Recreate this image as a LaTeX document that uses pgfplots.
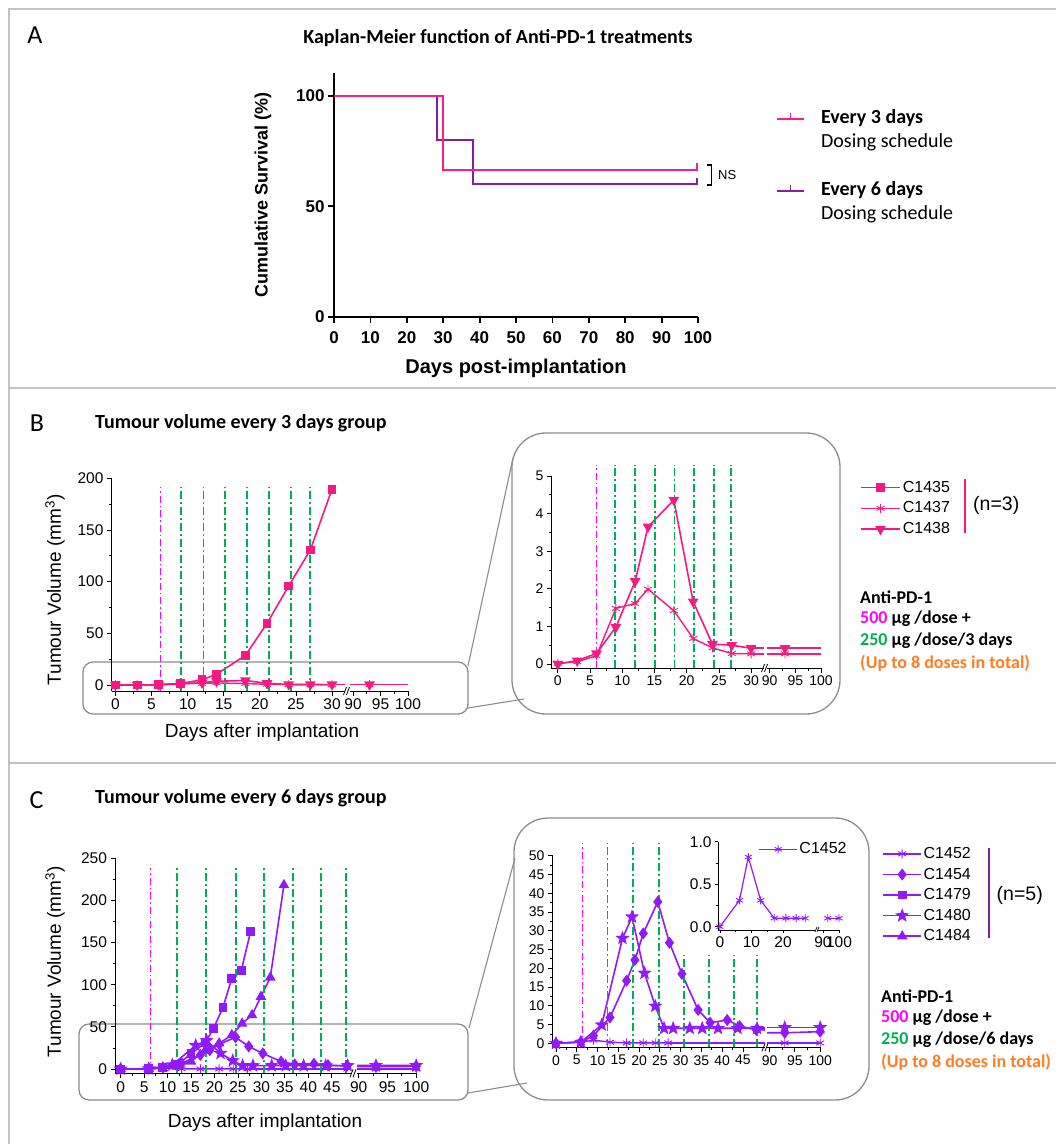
\documentclass[border=0pt]{standalone}
\usepackage{fontspec}
\setmainfont{Carlito}
\newfontfamily\arial{Liberation Sans}
\usepackage{pgfplots}
\pgfplotsset{compat=1.18}
\newcommand\fs[1]{\fontsize{#1}{#1}\selectfont}

\definecolor{kmpink}{RGB}{255,25,140}
\definecolor{kmpurple}{RGB}{135,30,160}
\definecolor{bpink}{RGB}{245,25,130}
\definecolor{cviolet}{RGB}{145,25,250}
\definecolor{dosemag}{RGB}{255,0,255}
\definecolor{dosegreen}{RGB}{0,176,80}
\definecolor{uporange}{RGB}{255,125,35}
\definecolor{framegray}{RGB}{195,195,195}
\definecolor{boxgray}{RGB}{140,140,140}

% filled five-point star
\pgfdeclareplotmark{fstar}{%
  \pgfpathmoveto{\pgfpointpolar{90}{\pgfplotmarksize}}%
  \pgfpathlineto{\pgfpointpolar{126}{0.42\pgfplotmarksize}}%
  \pgfpathlineto{\pgfpointpolar{162}{\pgfplotmarksize}}%
  \pgfpathlineto{\pgfpointpolar{198}{0.42\pgfplotmarksize}}%
  \pgfpathlineto{\pgfpointpolar{234}{\pgfplotmarksize}}%
  \pgfpathlineto{\pgfpointpolar{270}{0.42\pgfplotmarksize}}%
  \pgfpathlineto{\pgfpointpolar{306}{\pgfplotmarksize}}%
  \pgfpathlineto{\pgfpointpolar{342}{0.42\pgfplotmarksize}}%
  \pgfpathlineto{\pgfpointpolar{18}{\pgfplotmarksize}}%
  \pgfpathlineto{\pgfpointpolar{54}{0.42\pgfplotmarksize}}%
  \pgfpathclose\pgfusepathqfillstroke}

\tikzset{
  magdose/.style={draw=dosemag, line width=1.3pt, dash pattern=on 7pt off 3pt on 1.5pt off 3pt},
  grdose/.style={draw=dosegreen, line width=1.9pt, dash pattern=on 8pt off 3pt on 2pt off 3pt},
}
% dose schedule markers: #2 = day, #3 = bottom, #4 = top (axis units)
\newcommand\dose[4][grdose]{\draw[#1] (axis cs:#2,#3) -- (axis cs:#2,#4);}

\pgfplotsset{
  tumax/.style={scale only axis, anchor=south west,
    axis x line*=bottom, axis y line*=left, axis line style={-, black, line width=0.9pt},
    tick align=outside, major tick length=4.5pt, minor tick length=2.5pt,
    tick style={black, line width=0.8pt},
    /pgf/number format/assume math mode=true,
    tick label style={font=\arial\fs{15.5}}},
  s1435/.style={bpink, line width=1.6pt, mark=square*, mark size=3.6pt, mark options={solid}},
  s1437/.style={bpink, line width=1.4pt, mark=asterisk, mark size=4.5pt, mark options={solid, line width=0.9pt}},
  s1438/.style={bpink, line width=1.6pt, mark=triangle*, mark size=4.6pt, mark options={solid, rotate=180}},
  s1452/.style={cviolet, line width=1.4pt, mark=asterisk, mark size=4.5pt, mark options={solid, line width=0.9pt}},
  s1454/.style={cviolet, line width=1.6pt, mark=diamond*, mark size=4.8pt, mark options={solid}},
  s1479/.style={cviolet, line width=1.6pt, mark=square*, mark size=3.6pt, mark options={solid}},
  s1480/.style={cviolet, line width=1.6pt, mark=fstar, mark size=5.2pt, mark options={solid}},
  s1484/.style={cviolet, line width=1.6pt, mark=triangle*, mark size=4.6pt, mark options={solid}},
  ext/.style={no marks, forget plot},
  dots/.style={only marks, forget plot},
}

\begin{document}
\begin{tikzpicture}
\useasboundingbox (0,0) rectangle (1056pt,-1144pt);

% ---------- frames, boxes, labels ----------
\begin{scope}[x=1pt,y=-1pt]
  \draw[framegray, line width=1.6pt] (9,1144) -- (9,9) -- (1056,9);
  \draw[framegray, line width=1.6pt] (9,388) -- (1056,388);
  \draw[framegray, line width=1.6pt] (9,763) -- (1056,763);

  \draw[boxgray, line width=1.3pt, rounded corners=34pt] (512,433) rectangle (840,714);
  \draw[boxgray, line width=1.3pt, rounded corners=10pt] (83,662) rectangle (468,714);
  \draw[boxgray, line width=1.1pt] (468,666) -- (513,458);
  \draw[boxgray, line width=1.1pt] (468,708) -- (524,699);

  \draw[boxgray, line width=1.3pt, rounded corners=34pt] (514,818) rectangle (869,1100);
  \draw[boxgray, line width=1.3pt, rounded corners=10pt] (79,1024) rectangle (468,1100);
  \draw[boxgray, line width=1.1pt] (469,1028) -- (515,858);
  \draw[boxgray, line width=1.1pt] (468,1093) -- (527,1083);

  % axis breaks
  \foreach \bx/\by in {347.5/691, 765.5/668, 354/1073.3, 766/1047.3}{
    \draw[black, line width=0.8pt] (\bx-4,\by+4) -- (\bx-1,\by-4);
    \draw[black, line width=0.8pt] (\bx-1,\by+4) -- (\bx+2,\by-4);}
  \draw[black, line width=0.7pt] (815,932) -- (817,927);
  \draw[black, line width=0.7pt] (817,932) -- (819,927);

  % panel A texts
  \node[font=\fs{26}] at (35,35) {A};
  \node[font=\bfseries\fs{20}] at (498,38) {Kaplan-Meier function of Anti-PD-1 treatments};
  \node[font=\arial\bfseries\fs{18}, rotate=90] at (263,195) {Cumulative Survival (\%)};
  \node[font=\arial\bfseries\fs{20}] at (516,368) {Days post-implantation};
  \draw[black, line width=1.3pt] (706.7,165) -- (711.7,165) -- (711.7,185) -- (706.7,185);
  \node[font=\arial\fs{13}, anchor=west, inner sep=0pt] at (718,175) {NS};

  % panel B texts
  \node[font=\fs{26}] at (37,423) {B};
  \node[font=\bfseries\fs{20}, anchor=west, inner sep=0pt] at (95,423) {Tumour volume every 3 days group};
  \node[font=\arial\fs{19}, rotate=90] at (55,590) {Tumour Volume (mm\textsuperscript{3})};
  \node[font=\arial\fs{19}] at (262,733) {Days after implantation};
  \draw[bpink, line width=2pt] (964.5,479) -- (964.5,533);
  \node[font=\arial\fs{19.5}, anchor=west, inner sep=0pt] at (973,505) {(n=3)};
  \begin{scope}[every node/.style={font=\bfseries\fs{18}, anchor=west, inner sep=0pt}]
    \node at (860,597) {Anti-PD-1};
    \node at (860,619) {{\color{dosemag}500} µg /dose +};
    \node at (860,641) {{\color{dosegreen}250} µg /dose/3 days};
    \node at (860,663) {\color{uporange}(Up to 8 doses in total)};
  \end{scope}

  % panel C texts
  \node[font=\fs{26}] at (36.5,800) {C};
  \node[font=\bfseries\fs{20}, anchor=west, inner sep=0pt] at (95,798) {Tumour volume every 6 days group};
  \node[font=\arial\fs{19}, rotate=90] at (55,962) {Tumour Volume (mm\textsuperscript{3})};
  \node[font=\arial\fs{19}] at (265,1123) {Days after implantation};
  \draw[kmpurple, line width=2pt] (988.7,848) -- (988.7,938);
  \node[font=\arial\fs{19.5}, anchor=west, inner sep=0pt] at (996.5,895) {(n=5)};
  \begin{scope}[every node/.style={font=\bfseries\fs{18}, anchor=west, inner sep=0pt}]
    \node at (881,996) {Anti-PD-1};
    \node at (881,1017.5) {{\color{dosemag}500} µg /dose +};
    \node at (881,1040) {{\color{dosegreen}250} µg /dose/6 days};
    \node at (881,1062) {\color{uporange}(Up to 8 doses in total)};
  \end{scope}
\end{scope}

% ---------- A: Kaplan-Meier ----------
\begin{axis}[scale only axis, anchor=south west, at={(334pt,-316.7pt)},
  width=364pt, height=244pt, xmin=0, xmax=100, ymin=0, ymax=110.6, clip=false,
  axis x line*=bottom, axis y line*=left, axis line style={-, black, line width=2.2pt},
  tick align=outside, major tick length=6pt, tick style={black, line width=1.8pt},
  xtick={0,10,...,100}, ytick={0,50,100},
  /pgf/number format/assume math mode=true,
  tick label style={font=\arial\bfseries\fs{17}},
  xticklabel style={yshift=-5pt},
  legend cell align=left,
  legend style={draw=none, fill=none, at={(1.214,0.861)}, anchor=north west,
    font=\fs{20}, inner sep=0pt, row sep=0pt,
    nodes={inner sep=2pt, text height=15pt, text depth=5pt},
    /tikz/every odd column/.append style={column sep=14pt}},
  legend image code/.code={\draw[#1] (0pt,0pt) -- (27pt,0pt);
    \draw[#1, line width=1.5pt] (13.5pt,0pt) -- (13.5pt,6pt);},
]
\addplot[kmpurple, line width=2pt, const plot, forget plot] coordinates {(0,100)(28.2,80)(38.3,60)(100,60)};
\addplot[kmpink, line width=2pt, const plot, forget plot] coordinates {(0,100)(30,66.7)(100,66.7)};
\addplot[kmpink, line width=1.5pt, forget plot] coordinates {(99.7,66.7)(99.7,69.6)};
\addplot[kmpurple, line width=1.5pt, forget plot] coordinates {(99.7,60)(99.7,62.9)};
\addlegendimage{kmpink, line width=2pt}
\addlegendentry{\textbf{Every 3 days}}
\addlegendimage{empty legend}
\addlegendentry{Dosing schedule}
\addlegendimage{empty legend}
\addlegendentry{\phantom{D}}
\addlegendimage{kmpurple, line width=2pt}
\addlegendentry{\textbf{Every 6 days}}
\addlegendimage{empty legend}
\addlegendentry{Dosing schedule}
\end{axis}

% ---------- B: main, left segment ----------
\begin{axis}[tumax, at={(111.5pt,-691pt)}, width=233.5pt, height=212.7pt,
  xmin=-0.55, xmax=31.8, ymin=-5.8, ymax=200,
  xtick={0,5,...,30}, ytick={0,50,...,200}, minor x tick num=1, minor y tick num=1,
  legend cell align=left,
  legend style={draw=none, fill=none, at={(3.2056,0.859)}, anchor=west,
    font=\arial\fs{16}, inner sep=0pt, row sep=0pt,
    nodes={inner sep=2pt, text height=13pt, text depth=3.8pt}},
  legend image code/.code={\draw[mark repeat=2, mark phase=2, #1]
    plot coordinates {(0pt,0pt) (19.5pt,0pt) (39pt,0pt)};},
]
\addplot[s1435] coordinates {(0,0)(3,0)(6,0.3)(9,1.5)(12,5)(14,10.5)(18,28.6)(21,59.7)(24,95.8)(27,130.7)(30,189.4)};
\addlegendentry{C1435}
\addplot[s1437] coordinates {(0,0.02)(3,0.06)(6,0.22)(9,1.48)(12,1.61)(14,1.99)(18,1.42)(21,0.68)(24,0.43)(27,0.28)(30,0.27)};
\addlegendentry{C1437}
\addplot[s1438] coordinates {(0,0)(3,0.09)(6,0.28)(9,0.98)(12,2.2)(14,3.65)(18,4.36)(21,1.66)(24,0.53)(27,0.5)(30,0.42)};
\addlegendentry{C1438}
\addplot[s1437, ext] coordinates {(30,0.27)(93,0.27)};
\addplot[s1438, ext] coordinates {(30,0.42)(93,0.42)};
\dose[magdose]{6.2}{-5.8}{192}
\dose{9.1}{-5.8}{192}
\dose{12.2}{-5.8}{192}
\dose{15.2}{-5.8}{192}
\dose{18.2}{-5.8}{192}
\dose{21.3}{-5.8}{192}
\dose{24.3}{-5.8}{192}
\dose{27}{-5.8}{192}
\end{axis}

% ---------- B: main, right segment ----------
\begin{axis}[tumax, axis y line=none, at={(350pt,-691pt)}, width=58pt, height=212.7pt,
  xmin=89.45, xmax=100, ymin=-5.8, ymax=200, xtick={90,95,100}, minor x tick num=1]
\addplot[s1437, ext] coordinates {(30,0.27)(93,0.27)(100,0.27)};
\addplot[s1438, ext] coordinates {(30,0.42)(93,0.42)(100,0.42)};
\addplot[s1437, dots] coordinates {(93,0.27)};
\addplot[s1438, dots] coordinates {(93,0.42)};
\end{axis}

% ---------- B: inset, left segment ----------
\begin{axis}[tumax, clip=false, at={(551.4pt,-668pt)}, width=212.6pt, height=192pt,
  xmin=-1, xmax=32, ymin=-0.106, ymax=5,
  xtick={0,5,...,30}, ytick={0,...,5}, minor x tick num=1, minor y tick num=1,
  tick label style={font=\arial\fs{14}}]
\addplot[s1437, forget plot] coordinates {(0,0.02)(3,0.06)(6,0.22)(9,1.48)(12,1.61)(14,1.99)(18,1.42)(21,0.68)(24,0.43)(27,0.28)(30,0.27)};
\addplot[s1438, forget plot] coordinates {(0,0)(3,0.09)(6,0.28)(9,0.98)(12,2.2)(14,3.65)(18,4.36)(21,1.66)(24,0.53)(27,0.5)(30,0.42)};
\addplot[s1437, ext] coordinates {(30,0.27)(32,0.27)};
\addplot[s1438, ext] coordinates {(30,0.42)(32,0.42)};
\dose[magdose]{6}{-0.106}{5.3}
\dose{8.9}{-0.106}{5.3}
\dose{12}{-0.106}{5.3}
\dose{15.1}{-0.106}{5.3}
\dose{18.1}{-0.106}{5.3}
\dose{21.2}{-0.106}{5.3}
\dose{24.2}{-0.106}{5.3}
\dose{26.9}{-0.106}{5.3}
\end{axis}

% ---------- B: inset, right segment ----------
\begin{axis}[tumax, axis y line=none, clip=false, at={(767pt,-668pt)}, width=54pt, height=192pt,
  xmin=89.5, xmax=100, ymin=-0.106, ymax=5, xtick={90,95,100}, minor x tick num=1,
  tick label style={font=\arial\fs{14}}]
\addplot[s1437, ext] coordinates {(89.5,0.27)(100,0.27)};
\addplot[s1438, ext] coordinates {(89.5,0.42)(100,0.42)};
\addplot[s1437, dots] coordinates {(93,0.27)};
\addplot[s1438, dots] coordinates {(93,0.42)};
\end{axis}

% ---------- C: main, left segment ----------
\begin{axis}[tumax, at={(115pt,-1073.3pt)}, width=236pt, height=215pt,
  xmin=-1.2, xmax=49.1, ymin=-5.1, ymax=250,
  xtick={0,5,...,45}, ytick={0,50,...,250}, minor x tick num=1, minor y tick num=1,
  legend cell align=left,
  legend style={draw=none, fill=none, at={(3.252,0.829)}, anchor=west,
    font=\arial\fs{16}, inner sep=0pt, row sep=0pt,
    nodes={inner sep=2pt, text height=13pt, text depth=3.6pt}},
  legend image code/.code={\draw[mark repeat=2, mark phase=2, #1]
    plot coordinates {(0pt,0pt) (18.7pt,0pt) (37.4pt,0pt)};},
]
\addplot[s1452] coordinates {(0,0)(6,0.3)(9,0.83)(13,0.3)(17,0.1)(21,0.1)(24,0.1)(27,0.1)};
\addlegendentry{C1452}
\addplot[s1454] coordinates {(0,0)(6,0.4)(9,2.0)(13,6.9)(17,16.7)(19,22.2)(21,29.3)(24.5,37.7)(27.3,26.8)(30.3,18.5)(34.2,8.9)(37.1,5.5)(41.2,6.2)(44.2,4.6)(48.2,3.6)};
\addlegendentry{C1454}
\addplot[s1479] coordinates {(0,0)(6,0.3)(9,1.5)(12,5)(15,18)(18,31)(19.8,48.3)(21.8,72.8)(23.7,107.6)(25.7,116.7)(27.7,163)};
\addlegendentry{C1479}
\addplot[s1480] coordinates {(0,0)(6,0.3)(11,4.9)(16,28)(18.3,33.7)(21.3,18.7)(23.9,9.9)(26,4.0)(28.2,4.0)(32.2,4.0)(35.2,4.0)(39,4.0)(43.7,4.0)(48.4,4.0)};
\addlegendentry{C1480}
\addplot[s1484] coordinates {(0,0)(6,0.3)(9,1)(12,3)(15,9)(18,22)(21,30.4)(23.7,40.3)(25.9,54)(28,64)(29.9,85.8)(31.9,108.7)(34.8,218.3)};
\addlegendentry{C1484}
\addplot[s1452, ext] coordinates {(27,0.1)(93,0.1)};
\addplot[s1454, ext] coordinates {(48.2,3.6)(93,2.8)};
\addplot[s1480, ext] coordinates {(48.4,4.0)(93,4.2)};
\dose[magdose]{6.3}{-5.1}{238}
\dose{12.1}{-5.1}{238}
\dose{18.2}{-5.1}{238}
\dose{24.5}{-5.1}{238}
\dose{30.5}{-5.1}{238}
\dose{36.7}{-5.1}{238}
\dose{42.7}{-5.1}{238}
\dose{48}{-5.1}{238}
\end{axis}

% ---------- C: main, right segment ----------
\begin{axis}[tumax, axis y line=none, at={(357pt,-1073.3pt)}, width=59.2pt, height=215pt,
  xmin=89.7, xmax=100, ymin=-5.1, ymax=250, xtick={90,95,100}, minor x tick num=1]
\addplot[s1452, ext] coordinates {(27,0.1)(93,0.1)(100,0.1)};
\addplot[s1454, ext] coordinates {(48.2,3.6)(93,2.8)(100,3.1)};
\addplot[s1480, ext] coordinates {(48.4,4.0)(93,4.2)(100,4.2)};
\addplot[s1452, dots] coordinates {(93,0.1)(100,0.1)};
\addplot[s1454, dots] coordinates {(93,2.8)(100,3.1)};
\addplot[s1480, dots] coordinates {(93,4.2)(100,4.2)};
\end{axis}

% ---------- C: inset, left segment ----------
\begin{axis}[tumax, clip=false, at={(552.5pt,-1047.3pt)}, width=212.5pt, height=191.6pt,
  xmin=-0.84, xmax=50.3, ymin=-1.07, ymax=50,
  xtick={0,5,...,45}, ytick={0,5,...,50}, minor x tick num=1, minor y tick num=1,
  tick label style={font=\arial\fs{14}}]
\addplot[s1452, forget plot] coordinates {(0,0)(6,0.3)(9,0.83)(13,0.3)(17,0.1)(21,0.1)(24,0.1)(27,0.1)};
\addplot[s1454, forget plot] coordinates {(0,0)(6,0.4)(9,2.0)(13,6.9)(17,16.7)(19,22.2)(21,29.3)(24.5,37.7)(27.3,26.8)(30.3,18.5)(34.2,8.9)(37.1,5.5)(41.2,6.2)(44.2,4.6)(48.2,3.6)};
\addplot[s1480, forget plot] coordinates {(0,0)(6,0.3)(11,4.9)(16,28)(18.3,33.7)(21.3,18.7)(23.9,9.9)(26,4.0)(28.2,4.0)(32.2,4.0)(35.2,4.0)(39,4.0)(43.7,4.0)(48.4,4.0)};
\addplot[s1452, ext] coordinates {(27,0.1)(50.3,0.1)};
\addplot[s1454, ext] coordinates {(48.2,3.6)(50.3,3.55)};
\addplot[s1480, ext] coordinates {(48.4,4.0)(50.3,4.0)};
\dose[magdose]{6.4}{-1.07}{53.3}
\dose{12.4}{-1.07}{53.3}
\dose{18.5}{-1.07}{53.3}
\dose{24.7}{-1.07}{53.3}
\dose{30.7}{-1.07}{23.5}
\dose{36.9}{-1.07}{23.5}
\dose{42.9}{-1.07}{23.5}
\dose{48.3}{-1.07}{23.5}
\end{axis}

% ---------- C: inset, right segment ----------
\begin{axis}[tumax, axis y line=none, clip=false, at={(767pt,-1047.3pt)}, width=53.2pt, height=191.6pt,
  xmin=89.5, xmax=100, ymin=-1.07, ymax=50, xtick={90,95,100}, minor x tick num=1,
  tick label style={font=\arial\fs{14}}]
\addplot[s1452, ext] coordinates {(89.5,0.1)(93,0.1)(100,0.1)};
\addplot[s1454, ext] coordinates {(89.5,2.8)(93,2.8)(100,3.1)};
\addplot[s1480, ext] coordinates {(89.5,4.2)(93,4.2)(100,4.2)};
\addplot[s1452, dots] coordinates {(93,0.1)(100,0.1)};
\addplot[s1454, dots] coordinates {(93,2.8)(100,3.1)};
\addplot[s1480, dots] coordinates {(93,4.2)(100,4.2)};
\end{axis}

% ---------- C: nested C1452 inset ----------
\begin{axis}[tumax, clip=false, at={(718pt,-930pt)}, width=97pt, height=88.3pt,
  xmin=-0.6, xmax=30.1, ymin=-0.039, ymax=1.0,
  xtick={0,10,20}, ytick={0,0.5,1}, minor x tick num=1, minor y tick num=1,
  major tick length=3pt, minor tick length=2pt,
  yticklabel style={/pgf/number format/.cd, fixed, fixed zerofill, precision=1},
  legend cell align=left,
  legend style={draw=none, fill=none, at={(0.419,0.914)}, anchor=west,
    font=\arial\fs{16}, inner sep=0pt,
    nodes={inner sep=2pt, text height=12.5pt, text depth=3.5pt}},
  legend image code/.code={\draw[mark repeat=2, mark phase=2, #1]
    plot coordinates {(0pt,0pt) (18.7pt,0pt) (37.4pt,0pt)};},
]
\addplot[s1452, line width=1.2pt, mark size=4pt] coordinates {(0,0)(6.2,0.31)(9,0.82)(12.9,0.31)(17.2,0.1)(20.9,0.1)(24.1,0.1)(27,0.1)};
\addlegendentry{C1452}
\end{axis}
\begin{axis}[tumax, axis y line=none, clip=false, at={(818pt,-930pt)}, width=21pt, height=88.3pt,
  xmin=86.9, xmax=100, ymin=-0.039, ymax=1.0, xtick={90,100},
  major tick length=3pt]
\addplot[s1452, line width=1.2pt, mark size=4pt] coordinates {(93,0.1)(100,0.1)};
\end{axis}
\end{tikzpicture}
\end{document}
